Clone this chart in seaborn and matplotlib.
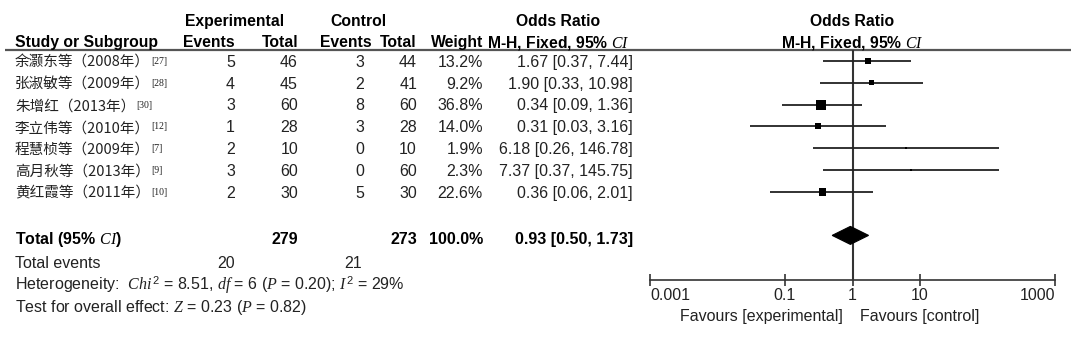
import matplotlib
matplotlib.use("Agg")
import matplotlib.pyplot as plt
from matplotlib.patches import Polygon
from matplotlib.ticker import NullLocator
import pandas as pd
import seaborn as sns

# ---- study-level data ----
studies = ["余灏东等（2008年）", "张淑敏等（2009年）", "朱增红（2013年）", "李立伟等（2010年）",
           "程慧桢等（2009年）", "高月秋等（2013年）", "黄红霞等（2011年）"]
refs = ["[27]", "[28]", "[30]", "[12]", "[7]", "[9]", "[10]"]
exp_events = [5, 4, 3, 1, 2, 3, 2]
exp_total = [46, 45, 60, 28, 10, 60, 30]
ctrl_events = [3, 2, 8, 3, 0, 0, 5]
ctrl_total = [44, 41, 60, 28, 10, 60, 30]
weights = [13.2, 9.2, 36.8, 14.0, 1.9, 2.3, 22.6]
odds = [1.67, 1.90, 0.34, 0.31, 6.18, 7.37, 0.36]
ci_low = [0.37, 0.33, 0.09, 0.03, 0.26, 0.37, 0.06]
ci_high = [7.44, 10.98, 1.36, 3.16, 146.78, 145.75, 2.01]

# ---- pooled results ----
pooled_or, pooled_low, pooled_high = 0.93, 0.50, 1.73
exp_total_sum, ctrl_total_sum = 279, 273
exp_events_sum, ctrl_events_sum = 20, 21
total_weight = 100.0
chi2, df_het, p_het, i2 = 8.51, 6, 0.20, 29
z_val, p_z = 0.23, 0.82

axis_ticks = [0.001, 0.1, 1, 10, 1000]
axis_tick_labels = ["0.001", "0.1", "1", "10", "1000"]

sns.set_style("white")
plt.rcParams["font.family"] = ["Liberation Sans", "Noto Sans CJK SC", "DejaVu Sans"]
plt.rcParams.update({
    "mathtext.fontset": "custom",
    "mathtext.it": "Liberation Serif:italic",
    "mathtext.rm": "Liberation Sans",
    "mathtext.bf": "Liberation Sans:bold",
    "mathtext.sf": "Liberation Sans",
})

W, H = 1080, 337
fig = plt.figure(figsize=(W / 100, H / 100), dpi=100)
fig.patch.set_facecolor("white")

# full-figure axes in pixel units for the table part
tab = fig.add_axes([0, 0, 1, 1])
tab.set_xlim(0, W)
tab.set_ylim(H, 0)
tab.axis("off")

ROW0, STEP = 61.0, 21.8          # first study row centre and row pitch (px)
BASE = 5.8                        # centre -> baseline offset (px)
TXT = "#222222"
FS, FS_HEAD, FS_CJK, FS_SUP = 11.5, 11.3, 10.5, 7


def row_px(i):
    return ROW0 + STEP * i


def put(x, y, s, ha="left", bold=False, size=FS, color=TXT, **kw):
    return tab.text(x, y, s, ha=ha, va="baseline", fontsize=size,
                    fontweight="bold" if bold else "normal", color=color, **kw)


# column right edges
X_NAME, X_EEV, X_ETOT, X_CEV, X_CTOT, X_WT, X_OR = 15, 235, 298, 364, 417, 483, 633
X_FOREST_C = 852.5

# ---- headers ----
put(235, 26, "Experimental", ha="center", bold=True, size=FS_HEAD, color="black")
put(358, 26, "Control", ha="center", bold=True, size=FS_HEAD, color="black")
put(558, 26, "Odds Ratio", ha="center", bold=True, size=FS_HEAD, color="black")
put(X_FOREST_C, 26, "Odds Ratio", ha="center", bold=True, size=FS_HEAD, color="black")
put(X_NAME, 47, "Study or Subgroup", bold=True, size=FS_HEAD, color="black")
put(X_EEV, 47, "Events", ha="right", bold=True, size=FS_HEAD, color="black")
put(X_ETOT, 47, "Total", ha="right", bold=True, size=FS_HEAD, color="black")
put(372, 47, "Events", ha="right", bold=True, size=FS_HEAD, color="black")
put(X_CTOT, 47, "Total", ha="right", bold=True, size=FS_HEAD, color="black")
put(X_WT, 47, "Weight", ha="right", bold=True, size=FS_HEAD, color="black")
put(630, 47, "M-H, Fixed, 95% $CI$", ha="right", bold=True, size=FS_HEAD, color="black")
put(X_FOREST_C, 47, "M-H, Fixed, 95% $CI$", ha="center", bold=True, size=FS_HEAD, color="black")
tab.plot([5, 1071], [50, 50], color="#555555", lw=1.6, solid_capstyle="butt")

# ---- study rows ----
for i in range(len(studies)):
    yb = row_px(i) + BASE
    t = put(X_NAME, yb, studies[i], size=FS_CJK, family=["Noto Sans CJK SC"])
    tab.annotate(refs[i], xy=(1, 0.92), xycoords=t, xytext=(1, 0),
                 textcoords="offset points", ha="left", va="top",
                 fontsize=FS_SUP, color=TXT, family=["Liberation Serif"])
    put(X_EEV, yb, f"{exp_events[i]}", ha="right")
    put(X_ETOT, yb, f"{exp_total[i]}", ha="right")
    put(X_CEV, yb, f"{ctrl_events[i]}", ha="right")
    put(X_CTOT, yb, f"{ctrl_total[i]}", ha="right")
    put(X_WT, yb, f"{weights[i]:.1f}%", ha="right")
    put(X_OR, yb, f"{odds[i]:.2f} [{ci_low[i]:.2f}, {ci_high[i]:.2f}]", ha="right")

# ---- totals and footer ----
put(X_NAME, 244, "Total (95% $CI$)", bold=True, color="black")
put(X_ETOT, 244, f"{exp_total_sum}", ha="right", bold=True, color="black")
put(X_CTOT, 244, f"{ctrl_total_sum}", ha="right", bold=True, color="black")
put(X_WT, 244, f"{total_weight:.1f}%", ha="right", bold=True, color="black")
put(X_OR, 244, f"{pooled_or:.2f} [{pooled_low:.2f}, {pooled_high:.2f}]", ha="right",
    bold=True, color="black")
put(X_NAME, 267.7, "Total events")
put(X_EEV, 267.7, f"{exp_events_sum}", ha="right")
put(362, 267.7, f"{ctrl_events_sum}", ha="right")
put(X_NAME, 290,
    f"Heterogeneity:  $Chi^{{2}}$ = {chi2:.2f}, $df$ = {df_het} ($P$ = {p_het:.2f}); "
    f"$I^{{2}}$ = {i2}%")
put(X_NAME, 312.3, f"Test for overall effect: $Z$ = {z_val:.2f} ($P$ = {p_z:.2f})")
put(843, 321, "Favours [experimental]", ha="right")
put(860, 321, "Favours [control]", ha="left")

# ---- forest plot ----
FX0, FX1, FY0, FY1 = 650, 1055, 50, 280
forest = fig.add_axes([FX0 / W, 1 - FY1 / H, (FX1 - FX0) / W, (FY1 - FY0) / H])
forest.patch.set_alpha(0)
forest.set_xscale("log")
forest.set_xlim(axis_ticks[0], axis_ticks[-1])
forest.set_ylim((FY1 - ROW0) / STEP, (FY0 - ROW0) / STEP)

df = pd.DataFrame({"odds": odds, "row": list(range(len(odds))), "weight": weights})
forest.axvline(1, color="#333333", lw=1.5, zorder=1)
forest.hlines(df["row"], ci_low, ci_high, color="#222222", lw=1.3, zorder=2)
k = 1.41
sns.scatterplot(data=df, x="odds", y="row", size="weight",
                sizes=(min(weights) * k, max(weights) * k), marker="s",
                color="black", edgecolor="black", linewidth=0, legend=False,
                ax=forest, zorder=3)

pooled_row = len(odds) + 1
half_h = 9.0 / STEP
forest.add_patch(Polygon([(pooled_low, pooled_row), (pooled_or, pooled_row - half_h),
                          (pooled_high, pooled_row), (pooled_or, pooled_row + half_h)],
                         closed=True, facecolor="black", edgecolor="black", lw=0.8, zorder=4))

forest.set_xlabel("")
forest.set_ylabel("")
forest.set_yticks([])
forest.xaxis.set_minor_locator(NullLocator())
forest.set_xticks(axis_ticks)
forest.set_xticklabels(axis_tick_labels)
forest.tick_params(axis="x", which="major", direction="inout", length=8.6, width=1.2,
                   color="#333333", labelsize=FS, labelcolor=TXT, pad=1.5, bottom=True)
tick_texts = forest.get_xticklabels()
tick_texts[0].set_horizontalalignment("left")
tick_texts[-1].set_horizontalalignment("right")
for side in ["left", "right", "top"]:
    forest.spines[side].set_visible(False)
forest.spines["bottom"].set_color("#333333")
forest.spines["bottom"].set_linewidth(1.2)

fig.savefig("out.png", dpi=100, facecolor="white")
